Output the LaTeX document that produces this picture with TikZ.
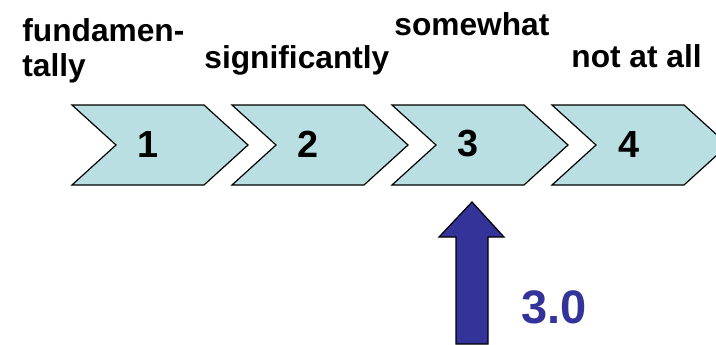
\documentclass[tikz,border=0pt]{standalone}
\usepackage{fontspec}
\setmainfont{Liberation Sans}
\usepackage{tikz}
\definecolor{chevfill}{HTML}{BADFE2}
\definecolor{arrowblue}{HTML}{333399}

\begin{document}
\begin{tikzpicture}[x=0.5pt,y=0.5pt,chev/.style={draw=black,line width=0.6pt,fill=chevfill},lbl/.style={inner sep=0pt,font=\fontsize{15.85}{17.5}\selectfont\bfseries},num/.style={inner sep=0pt,font=\fontsize{18.9}{22}\selectfont\bfseries}]
\useasboundingbox (0,0) rectangle (716,344);
\foreach \x/\1 in %
{72/1,232/2,392/3,552/4} {
   \draw[chev] (\x,239) -- ++(132,0) -- ++(44,-40) -- ++(-44,-40) -- ++(-132,0) -- ++(44,40) -- cycle;
   \node[num] (num\1) at (\x+76.5,200) {\1};
}
\node[lbl,anchor=north west,align=left] (lvl1) at (22,326) {fundamen-\\tally};
\node[lbl,anchor=base west] (lvl2) at (204,276) {significantly};
\node[lbl,anchor=base west] (lvl3) at (394,309) {somewhat};
\node[lbl,anchor=base west] (lvl4) at (571,277) {not at all};
\draw[draw=black,line width=0.6pt,fill=arrowblue] (456,0) -- (456,107) -- (439,107) -- (472,142) -- (504,107) -- (488,107) -- (488,0) -- cycle;
\node[anchor=base west,inner sep=0pt,text=arrowblue,font=\fontsize{23.5}{28}\selectfont\bfseries] (val) at (521,21) {3.0};
\end{tikzpicture}
\end{document}
